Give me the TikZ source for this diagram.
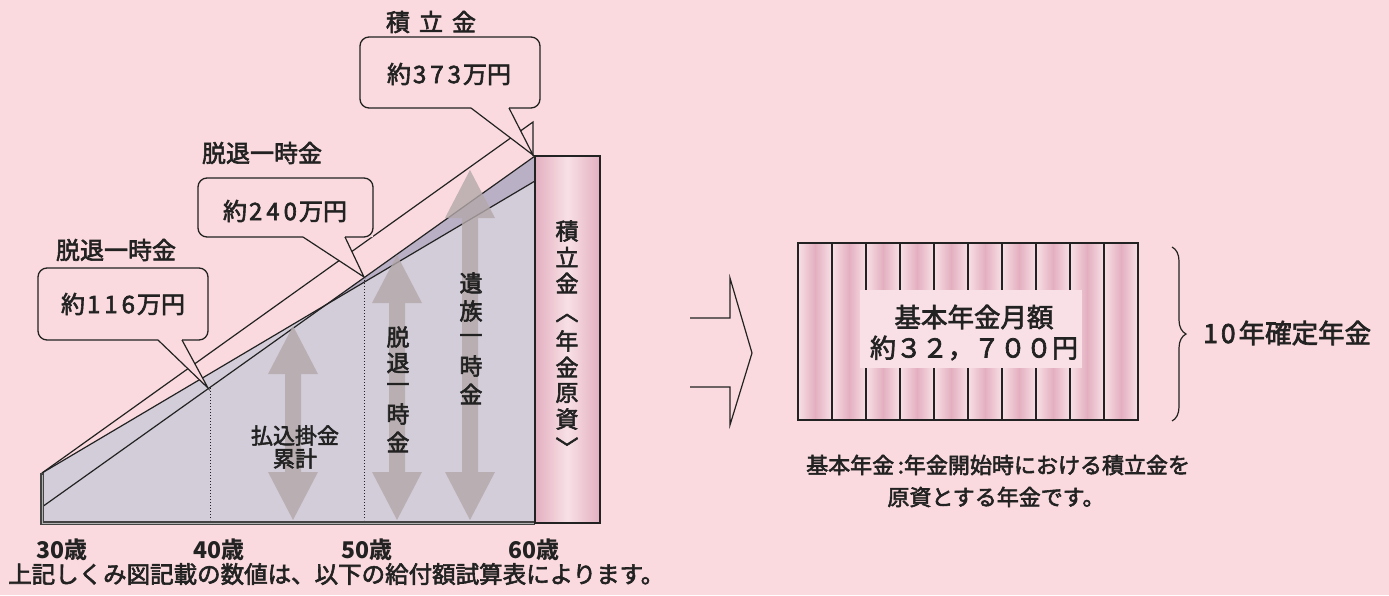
\documentclass[tikz,border=0pt]{standalone}
\usepackage{fontspec}
\setmainfont{Noto Sans CJK JP}[UprightFeatures={FakeBold=2.5}]
\usetikzlibrary{decorations.pathreplacing,calc}
\definecolor{bg}{HTML}{FADADE}
\definecolor{tri}{HTML}{D3CDD9}
\definecolor{band}{HTML}{B9B0C5}
\definecolor{arr}{HTML}{B3A8A9}
\definecolor{colpink}{HTML}{E3AFC0}
\definecolor{colpinkl}{HTML}{F8E0E6}
\definecolor{ink}{HTML}{222222}
\begin{document}
\begin{tikzpicture}[x=1pt,y=-1pt,
  txt/.style={inner sep=0pt, text=ink, font=\fontsize{24}{26}\selectfont},
  small/.style={inner sep=0pt, text=ink, font=\fontsize{22}{24}\selectfont},
  vtxt/.style={inner sep=0pt, text=ink, font=\fontsize{23}{25}\selectfont},
  agetxt/.style={inner sep=0pt, text=ink, font=\fontsize{23}{25}\selectfont\bfseries},
  ln/.style={draw=ink, line width=1.2pt},
  callout/.style={draw=ink, line width=1.3pt, rounded corners=9pt},
  bigarrow/.style={fill=arr, fill opacity=0.8, draw=none}]
\fill[bg] (0,0) rectangle (1389,595);
\useasboundingbox (0,0) rectangle (1389,595);

% ---------- chart ----------
\coordinate (bl) at (42,523);
\coordinate (br) at (535,523);
\coordinate (l1a) at (42,473);  \coordinate (l1b) at (533,122);
\coordinate (l2a) at (42,473);  \coordinate (l2b) at (535,181);
\coordinate (l3a) at (42,507);  \coordinate (l3b) at (535,156);
\coordinate (X) at (intersection of l2a--l2b and l3a--l3b);
% lavender area under the upper of the two lines
\fill[tri] (bl) -- (l2a) -- (X) -- (l3b) -- (br) -- cycle;
% darker band right of the crossing
\fill[band] (X) -- (l3b) -- (l2b) -- cycle;
% lines
\draw[ln] (l1a) -- (l1b) -- (533,156);
\draw[ln] (l2a) -- (l2b);
\draw[ln] (l3a) -- (l3b);
% dotted dividers
\coordinate (d40t) at (210,388); \coordinate (d40b) at (210,520);
\coordinate (d50t) at (364,277); \coordinate (d50b) at (364,520);
\draw[ink, line width=1pt, dotted] (d40t) -- (d40b);
\draw[ink, line width=1pt, dotted] (d50t) -- (d50b);

% big gray double arrows
\newcommand{\dblarrow}[4]{% x, top, bottom, name
  \fill[bigarrow] (#1,#2) -- (#1+25,#2+48) -- (#1+8,#2+48) -- (#1+8,#3-48) -- (#1+25,#3-48)
     -- (#1,#3) -- (#1-25,#3-48) -- (#1-8,#3-48) -- (#1-8,#2+48) -- (#1-25,#2+48) -- cycle;
  \coordinate (#4) at (#1,{(#2+#3)/2});}
\dblarrow{293}{326}{520}{a1}
\dblarrow{397}{255}{520}{a2}
\dblarrow{470}{170}{520}{a3}

% baseline and left edge
\draw[draw=ink!85, line width=3.4pt] (l1a) -- (bl) -- (br);
\draw[draw=ink!35, line width=1pt] (42,475) -- (42,523) -- (535,523);

% column
\shade[left color=colpink, right color=colpink, middle color=colpinkl] (535,156) rectangle (600,523);
\draw[ln] (535,156) rectangle (600,523);
\foreach \c/\y in {積/231,立/257,金/283,︿/318,年/341,金/367,原/393,資/419,﹀/447}
  \node[vtxt] at (567,\y) {\c};

% arrow texts
\node[small, align=center] (t1) at (295,447) {払込掛金\\[-1pt]累計};
\foreach \c/\y in {脱/337,退/363,一/388,時/414,金/442}
  \node[vtxt] at (398,\y) {\c};
\foreach \c/\y in {遺/283,族/311,一/339,時/366,金/394}
  \node[vtxt] at (471,\y) {\c};

% callout 116
\coordinate (c1t1) at (158,340); \coordinate (c1t2) at (182,340); \coordinate (c1tip) at (208,388);
\fill[bg] (c1t1) -- (38,340) -- (38,268) -- (208,268) -- (208,340) -- (c1t2) -- (c1tip) -- cycle;
\draw[callout] (c1t1) -- (38,340) -- (38,268) -- (208,268) -- (208,340) -- (c1t2);
\draw[ln, line join=miter] (c1t1) -- (c1tip) -- (c1t2);
\node[txt] (c1) at (123,304) {約\kern2pt1\kern4pt1\kern4pt6\kern2pt万円};
\node[txt] (c1l) at (116,250) {脱退一時金};

% callout 240
\coordinate (c2t1) at (303,237); \coordinate (c2t2) at (345,237); \coordinate (c2tip) at (364,277);
\fill[bg] (c2t1) -- (198,237) -- (198,178) -- (373,178) -- (373,237) -- (c2t2) -- (c2tip) -- cycle;
\draw[callout] (c2t1) -- (198,237) -- (198,178) -- (373,178) -- (373,237) -- (c2t2);
\draw[ln, line join=miter] (c2t1) -- (c2tip) -- (c2t2);
\node[txt] (c2) at (285,211) {約\kern2pt2\kern4pt4\kern4pt0\kern2pt万円};
\node[txt] (c2l) at (262,153) {脱退一時金};

% callout 373
\coordinate (c3t1) at (471,108); \coordinate (c3t2) at (509,108); \coordinate (c3tip) at (533,155);
\fill[bg] (c3t1) -- (360,108) -- (360,37) -- (540,37) -- (540,108) -- (c3t2) -- (c3tip) -- cycle;
\draw[callout] (c3t1) -- (360,108) -- (360,37) -- (540,37) -- (540,108) -- (c3t2);
\draw[ln, line join=miter] (c3t1) -- (c3tip) -- (c3t2);
\node[txt] (c3) at (449,74) {約\kern2pt3\kern4pt7\kern4pt3\kern2pt万円};
\node[txt] (c3l) at (431,22) {積\hspace{9pt}立\hspace{9pt}金};

% ages
\node[agetxt] (g30) at (62,550) {30歳};
\node[agetxt] (g40) at (219,550) {40歳};
\node[agetxt] (g50) at (367,550) {50歳};
\node[agetxt] (g60) at (534,550) {60歳};
\node[txt, font=\fontsize{23.5}{25}\selectfont, anchor=west] (note) at (8,574) {上記しくみ図記載の数値は、以下の給付額試算表によります。};

% ---------- hollow arrow ----------
\draw[ln, fill=bg, line join=miter] (690,318) -- (730,318) -- (730,278) -- (752,353) -- (730,425) -- (730,387) -- (690,387);

% ---------- striped box ----------
\foreach \i in {0,...,9} {
  \shade[left color=colpinkl, right color=colpinkl, middle color=colpink]
    ({798+\i*34},243) rectangle ({832+\i*34},420);
}
\fill[colpinkl] (860,290) rectangle (1082,368);
\node[draw=ink, line width=1.3pt, minimum width=340pt, minimum height=177pt, inner sep=0pt] (box) at (968,331.5) {};
\foreach \i in {1,9} \draw[ln] ({798+\i*34},243) -- ({798+\i*34},420);
\foreach \i in {2,...,8} {
  \draw[ln] ({798+\i*34},243) -- ({798+\i*34},290);
  \draw[ln] ({798+\i*34},368) -- ({798+\i*34},420);
}
\node[txt, font=\fontsize{26.5}{28}\selectfont] (bt1) at (974,317) {基本年金月額};
\node[txt, font=\fontsize{26}{28}\selectfont] (bt2) at (974,348) {約３２，７００円};

% brace
\draw[ink, line width=1.2pt, decorate, decoration={brace, amplitude=14pt}] (1172,247) -- (1172,421);
\node[txt, font=\fontsize{26.5}{28}\selectfont, anchor=west] (ten) at (1203,333) {1\kern3pt0\kern3pt年確定年金};

% explanation
\node[small, anchor=west] (e1) at (806,465) {基本年金\,:年金開始時における積立金を};
\node[small] (e2) at (996,497) {原資とする年金です。};
\end{tikzpicture}
\end{document}
